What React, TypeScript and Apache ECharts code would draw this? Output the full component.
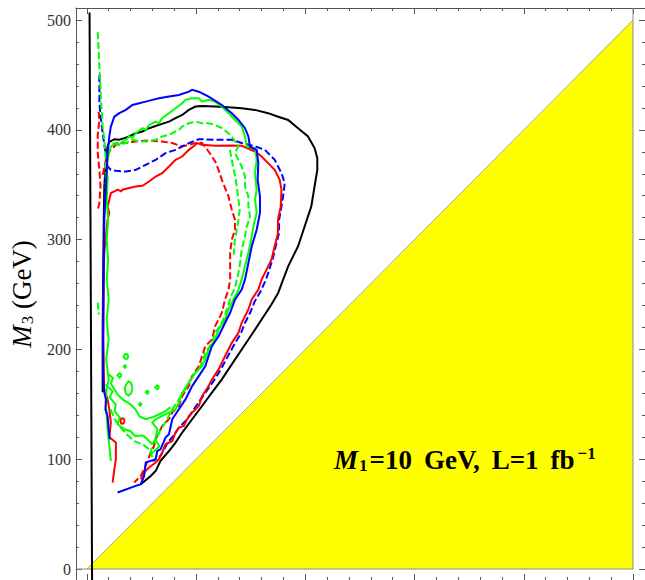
import React, { useEffect, useRef } from 'react';
import * as echarts from 'echarts';

// ---------- axes ----------
const AXIS_MIN = -10;
const AXIS_MAX = 511;
const MAJOR_TICKS = [0, 100, 200, 300, 400, 500];
const MINOR_TICKS = [0, 20, 40, 60, 80, 100, 120, 140, 160, 180, 200, 220, 240, 260, 280, 300, 320, 340, 360, 380, 400, 420, 440, 460, 480, 500];

// ---------- excluded region (M3 < M2) and boundaries ----------
const diagonal = [[0, 0], [500, 500]];
const boxEdge = [[-10, 0], [500, 0], [500, 511]];

// ---------- black ----------
const blackWall = [[2.5, 507], [4.8, -10]];
const blackSolid = [
  [14.5, 161], [14.5, 218], [15, 273], [15.5, 318], [16, 348.5], [17.5, 373], [19, 385], [20.6, 389],
  [25.2, 391.5], [29.7, 391], [34.3, 392.5], [38.8, 394], [44.8, 397], [50.9, 398.5], [57, 401.5],
  [66, 404.5], [75.2, 407.5], [81.2, 410.6], [87.3, 413.6], [93.4, 418.2], [99.4, 421.2], [105.5, 421.8],
  [117.5, 421.2], [129.7, 420.6], [141.8, 419.7], [154, 418.2], [166, 415.2], [175.2, 412], [184.3, 409],
  [193.4, 401.5], [202.5, 394], [208.5, 383.4], [211, 374.3], [211, 363.6], [208.5, 348.5], [205.5, 330.3],
  [199.4, 312], [193.4, 294], [184.3, 275.7], [179.7, 263.6], [175.2, 251.5], [169, 241], [160, 227.3],
  [151, 213.6], [141.8, 200], [132.7, 186.4], [123.6, 172.7], [114.5, 160.6], [105.5, 148.5], [96.4, 136.4],
  [87.3, 124.3], [81.2, 115.2], [75.2, 107.5], [67.5, 98.5], [63, 89.4], [58.5, 84.8], [49.4, 77.3]
];

// ---------- blue ----------
const blueSolid = [
  [20.9, 118.2], [20, 127.3], [19, 139.4], [17, 145.5], [17.5, 154.5], [16, 160.6], [15, 172.7], [15, 218],
  [15.5, 272.7], [16, 318], [17.5, 348.5], [19, 378.8], [20.6, 394], [22, 403], [25.2, 412], [29.7, 415.2],
  [35.7, 418.2], [41.8, 422.7], [47.9, 424.3], [53.9, 425.7], [60, 427.3], [66, 428.8], [75.2, 430.3],
  [84.3, 431.8], [93.4, 434.8], [96.4, 436.4], [102.5, 434.8], [111.5, 430.3], [123.6, 422.7], [132.7, 415.2],
  [138.8, 409], [144.8, 401.5], [147.9, 394], [149.4, 384.8], [155.5, 381.8], [157, 369.7], [156.4, 354.5],
  [158.5, 339.4], [158.5, 324.3], [155.5, 309], [151, 294], [147.9, 278.8], [144.8, 263.6], [141.8, 254.5],
  [135.7, 245.5], [131.2, 233.4], [126.6, 224.3], [120.6, 212], [114.5, 203], [111.5, 194], [108.5, 184.8],
  [102.5, 175.7], [96.4, 166.6], [90.3, 154.5], [84.3, 145.5], [78.2, 136.4], [75.2, 122.7], [72, 119.7],
  [67.5, 109], [64.5, 107.5], [63, 100], [58.5, 98.5], [53.9, 97], [52.5, 84.8], [49.4, 77.3], [44.8, 75.7],
  [28.2, 69.7]
];
const blueDashed = [
  [11.5, 450], [11.5, 424.3], [13, 409], [14.5, 397.3], [16, 386.4], [17.5, 377.3], [19, 366.6], [22, 363.6],
  [26.6, 362.7], [35.7, 362], [44.8, 363.6], [53.9, 368.2], [63, 372.7], [72, 378.8], [81.2, 381.8],
  [93.4, 388], [102.5, 391.5], [117.5, 391], [132.7, 391], [141.8, 388], [154, 385], [163, 381.8],
  [172, 372.7], [178.2, 360.6], [181.2, 351.5], [179.7, 339.4], [178.2, 330.3], [176, 318], [176, 306],
  [172.9, 294], [170, 281.8], [167, 272.7], [164, 263.6], [159, 252.7], [153.6, 243.6], [150, 234.5],
  [144.5, 223.6], [141, 214.5], [135.5, 205.5], [129, 193.6], [122.7, 181.8], [116.4, 171.8], [110, 162.7],
  [103.6, 153.6], [97.3, 144.5], [91, 135.5], [84.5, 129], [79, 121], [73.6, 114.5], [70, 107.3],
  [66.4, 101.8], [60, 98.2]
];

// ---------- red ----------
const redSolid = [
  [23.6, 78.8], [25.2, 91], [26.6, 100], [26.6, 115.2], [20.6, 120], [22, 133.4], [20.6, 145.5], [19, 154.5],
  [15.9, 163.6], [15, 209], [15.5, 272.7], [16, 288], [17.5, 303], [19, 318], [20.6, 324.3], [19, 330.3],
  [20.6, 336.4], [22, 342.5], [25.2, 344], [28.2, 345.5], [31.2, 344], [32.7, 345.5], [38.8, 347],
  [44.8, 348.5], [50.9, 349], [57, 353], [63, 357.5], [69, 360.6], [75.2, 366.6], [81.2, 372.7],
  [87.3, 375.7], [93.4, 381.8], [99.4, 386.4], [101, 388], [105.5, 386.4], [117.5, 385.5], [132.7, 385.7],
  [141.8, 385.5], [154, 380.3], [160, 375.7], [166, 369.7], [172, 363.6], [176.6, 354.5], [178.2, 345.5],
  [177.5, 330.3], [175, 318], [175, 306], [172, 294], [169, 281.8], [164.5, 272.7], [160, 263.6],
  [157, 254.5], [151, 245.5], [147.9, 236.4], [141.8, 224.3], [138.8, 215.2], [132.7, 206], [126.6, 194],
  [120.6, 181.8], [114.5, 172.7], [111.5, 166.6], [105.5, 157.5], [102.5, 148.5], [96.4, 142.5],
  [91.8, 136.4], [88.8, 130.3], [84.3, 128.8], [81.2, 124.3], [78.2, 116.6], [72, 113.6], [69, 106],
  [66, 100], [63, 97], [57, 92.5], [52.5, 88], [49.4, 81.8]
];
const redLoop = [[34.7, 134.8], [33.5, 137], [31.5, 137], [30.7, 134.8], [31.5, 132.6], [33.5, 132.6], [34.7, 134.8]];
const redDashedLeft = [[10.9, 416.4], [11.5, 409], [10, 395.5], [10, 378.8], [11.5, 363.6], [12.5, 348.5], [11.5, 333.4], [10, 327.3]];
const redDashed = [
  [14.5, 359], [19, 378.8], [25.2, 384.8], [28.2, 388], [35.7, 388], [44.8, 389.4], [57, 390.3], [69, 389.4],
  [78.2, 388], [87.3, 384.8], [93.4, 386.4], [101, 388.5], [105.5, 388], [111.5, 380.3], [117.5, 371.2],
  [120.6, 363.6], [123.6, 354.5], [129.7, 339.4], [132.7, 327.3], [135.7, 318], [135.7, 309], [132.7, 300],
  [131.2, 288], [131.2, 275.7], [131.2, 263.6], [129.7, 254.5], [126.6, 245.5], [123.6, 233.4], [120.6, 227.3],
  [117.5, 221.2], [114.5, 209], [108.5, 203], [105.5, 194], [102.5, 184.8], [96.4, 175.7], [93.4, 166.6],
  [87.3, 157.5], [84.3, 148.5], [78.2, 142.5], [75.2, 136.4], [69, 130.3], [63, 118.2], [61.5, 112],
  [58.5, 106], [53.9, 94], [49.4, 84.8], [43.4, 78.8]
];

// ---------- green ----------
const greenSolid = [
  [22, 98.5], [20.6, 112], [19, 127.3], [17.5, 148.5], [18, 163.6], [20, 172.7], [17.7, 191], [20, 209],
  [18.2, 227.3], [20, 245.5], [18.2, 263.6], [19.5, 281.8], [18.2, 300], [19.5, 318], [18.2, 336.4],
  [19, 354.5], [18.2, 368.2], [20, 377.3], [22, 384.8], [26.6, 388], [29, 386], [32.7, 389.4], [36, 391],
  [38.8, 394], [42, 393], [44.8, 397], [50.9, 401.5], [54, 400], [57, 404.5], [63, 407.5], [66, 406],
  [69, 410.6], [75.2, 415.2], [81.2, 419.7], [87.3, 424.3], [90.3, 427.3], [96.4, 428.8], [102.5, 428.8],
  [105.5, 425.7], [111.5, 427.3], [117.5, 425.7], [123.6, 421.2], [129.7, 415.2], [135.7, 409], [141.8, 403],
  [144.8, 394], [146.4, 384.8], [154, 383.4], [155.5, 372.7], [154, 360.6], [155.5, 345.5], [154, 336.4],
  [155.5, 324.3], [152.5, 312], [151, 303], [147.9, 288], [144.8, 275.7], [141.8, 263.6], [138.8, 254.5],
  [134.3, 245.5], [129.7, 236.4], [126.6, 227.3], [120.6, 218.2], [117.5, 209], [111.5, 200], [108.5, 191],
  [105.5, 184.8], [99.4, 178.8], [93.4, 169.7], [87.3, 160.6], [84.3, 151.5], [81.2, 145.5], [75.2, 142.5],
  [69, 139.4], [63, 136.4], [60, 133.4], [64.5, 127.3], [62.7, 118.2], [66.4, 111.8], [61.8, 107.3],
  [58.2, 104.5]
];
const greenSolidInnerA = [
  [17.3, 168.2], [23.6, 161.8], [20.9, 156.4], [26.4, 150], [25.5, 143.6], [30, 138.2], [28.2, 131.8],
  [34.5, 127.3], [40, 125.5], [44.5, 121], [50.9, 121.8], [55.5, 118.2], [60, 113.6]
];
const greenSolidInnerB = [
  [19, 178], [24, 174], [22, 169], [28.2, 159], [32.7, 154.5], [40, 150], [44.5, 145.5], [48.2, 139],
  [53.6, 136.4], [60, 138.2], [66.4, 141], [71.8, 143.6], [76.4, 147.3]
];
const greenLoop1 = [[38.2, 193.6], [37, 195.6], [34.8, 195.6], [33.6, 193.6], [34.8, 191.6], [37, 191.6], [38.2, 193.6]];
const greenLoop2 = [[36.2, 184.5], [35, 185.7], [33.8, 184.5], [35, 183.3], [36.2, 184.5]];
const greenLoop3 = [[32, 176.4], [30, 178.4], [28, 176.4], [30, 174.4], [32, 176.4]];
const greenLoop4 = [[41.7, 164.5], [40.5, 169.5], [38.2, 171], [35.9, 168], [34.7, 164.5], [35.9, 159.5], [38.2, 158], [40.5, 160], [41.7, 164.5]];
const greenLoop5 = [[66.3, 165.5], [64.5, 167.3], [62.7, 165.5], [64.5, 163.7], [66.3, 165.5]];
const greenLoop6 = [[57, 161], [55.5, 162.5], [54, 161], [55.5, 159.5], [57, 161]];
const greenLoop7 = [[50.3, 150], [49, 151.3], [47.7, 150], [49, 148.7], [50.3, 150]];

const greenDashedLeft = [[10, 489], [11.5, 457.6], [13, 427.3], [14.5, 403], [16, 391], [17.3, 372.7], [17.3, 336.4]];
const greenDashedBit = [[10, 242.7], [11, 231.8]];
const greenDashed = [
  [23.6, 388], [29.7, 386.4], [35.7, 388], [41.8, 391], [47.9, 389.4], [57, 389.4], [63, 391], [69, 394],
  [75.2, 395.5], [81.2, 398.5], [84.3, 400], [87.3, 403], [93.4, 406], [99.4, 407.5], [105.5, 406],
  [111.5, 406], [117.5, 404.5], [123.6, 401.5], [129.7, 397], [132.7, 394], [135.7, 389.4], [138.8, 385],
  [135.7, 378.8], [138.8, 372.7], [141.8, 366.6], [144.8, 357.5], [144.8, 348.5], [147.9, 339.4],
  [147.9, 330.3], [149.4, 321.2], [146.4, 312], [144.8, 303], [141.8, 291], [140.3, 278.8], [138.8, 269.7],
  [137.3, 263.6], [135.7, 256.4], [132.7, 250], [129.7, 241], [126.6, 231.8], [123.6, 224.3], [117.5, 215.2],
  [114.5, 206], [108.5, 197], [105.5, 188], [102.5, 181.8], [96.4, 175.7], [90.3, 163.6], [84.3, 154.5],
  [78.2, 145.5], [73.6, 136.4], [69, 129], [64.5, 121], [60, 113.6], [58.2, 104.5]
];
const greenDashedInner = [[131, 381.8], [133.6, 368.2], [136.4, 354.5], [138.2, 341], [140, 327.3], [138.2, 313.6], [135.5, 300], [134.5, 286.4]];
const greenDashedLow = [[21.8, 145.5], [25.5, 136.4], [30.9, 129], [37.3, 121.8], [43.6, 116.4], [50.9, 113.6], [57.3, 109], [60, 101.8]];

// ---------- styles ----------
const FRAME = '#555';
const SERIF = '"Liberation Serif", "Times New Roman", serif';
const BLACK = '#000000';
const BLUE = '#0000ff';
const RED = '#ff0000';
const GREEN = '#00ff00';
const DASH = [7, 3];

function curve(name: string, data: number[][], color: string, dashed: boolean, z: number, width = 2) {
  return {
    type: 'line',
    name,
    data,
    showSymbol: false,
    symbol: 'none',
    silent: true,
    z,
    lineStyle: { color, width, type: dashed ? DASH : 'solid', cap: 'butt', join: 'miter' },
  };
}

function makeAxis(position: string, ticks: number[], length: number, showLine: boolean, labels: boolean) {
  return {
    type: 'value',
    min: AXIS_MIN,
    max: AXIS_MAX,
    position,
    splitLine: { show: false },
    axisLine: { show: showLine, onZero: false, lineStyle: { color: FRAME, width: 1 } },
    axisTick: { show: true, inside: true, length, customValues: ticks, lineStyle: { color: FRAME, width: 1 } },
    axisLabel: labels
      ? { show: true, customValues: MAJOR_TICKS, color: '#333', fontFamily: SERIF, fontSize: 16, margin: 5 }
      : { show: false },
  };
}

export default function App() {
  const ref = useRef<HTMLDivElement>(null);
  useEffect(() => {
    if (!ref.current) return;
    const chart = echarts.init(ref.current, null, { renderer: 'svg' });
    const yLeftMajor: any = makeAxis('left', MAJOR_TICKS, 6, true, true);
    yLeftMajor.name = '{m|M}{s|3}{n| (GeV)}';
    yLeftMajor.nameLocation = 'middle';
    yLeftMajor.nameRotate = 90;
    yLeftMajor.nameGap = 38;
    yLeftMajor.nameTextStyle = {
      color: '#000',
      fontFamily: SERIF,
      fontSize: 27,
      rich: {
        m: { fontFamily: SERIF, fontSize: 27, fontStyle: 'italic', color: '#000' },
        s: { fontFamily: SERIF, fontSize: 17, color: '#000', verticalAlign: 'top', padding: [12, 0, 0, 1] },
        n: { fontFamily: SERIF, fontSize: 27, color: '#000' },
      },
    };
    const bold = { fontFamily: SERIF, fontSize: 27, fontWeight: 'bold', color: '#000' };
    const option: any = {
      animation: false,
      backgroundColor: '#ffffff',
      grid: { left: 73, top: 8, width: 573, height: 573, containLabel: false },
      title: {
        text: '{m|M}{s|1}{n|=10}{g|GeV,}{l|L=1}{f|fb}{p|\u22121}',
        left: 334,
        top: 445,
        padding: 0,
        textStyle: {
          rich: {
            m: { ...bold, fontStyle: 'italic' },
            s: { fontFamily: SERIF, fontSize: 17, fontWeight: 'bold', color: '#000', verticalAlign: 'top', padding: [12, 0, 0, 1] },
            n: { ...bold, padding: [0, 0, 0, 2] },
            g: { ...bold, padding: [0, 0, 0, 12] },
            l: { ...bold, padding: [0, 0, 0, 12] },
            f: { ...bold, padding: [0, 0, 0, 12] },
            p: { fontFamily: SERIF, fontSize: 17, fontWeight: 'bold', color: '#000', verticalAlign: 'top', padding: [0, 0, 0, 3] },
          },
        },
      },
      xAxis: [
        makeAxis('bottom', MINOR_TICKS, 3, true, false),
        makeAxis('bottom', MAJOR_TICKS, 6, false, false),
        makeAxis('top', MINOR_TICKS, 3, true, false),
        makeAxis('top', MAJOR_TICKS, 6, false, false),
      ],
      yAxis: [
        yLeftMajor,
        makeAxis('left', MINOR_TICKS, 3, false, false),
        makeAxis('right', MINOR_TICKS, 3, true, false),
        makeAxis('right', MAJOR_TICKS, 6, false, false),
      ],
      series: [
        {
          type: 'line',
          data: diagonal,
          showSymbol: false,
          symbol: 'none',
          silent: true,
          z: 1,
          lineStyle: { color: '#a8a8a8', width: 1 },
          areaStyle: { color: '#ffff00', opacity: 1 },
        },
        curve('edge', boxEdge, '#8a8a8a', false, 2, 1),
        curve('blackWall', blackWall, BLACK, false, 3, 2),
        curve('blackSolid', blackSolid, BLACK, false, 3, 2),
        curve('redDashedLeft', redDashedLeft, RED, true, 4),
        curve('redDashed', redDashed, RED, true, 4),
        curve('blueDashed', blueDashed, BLUE, true, 5),
        curve('redSolid', redSolid, RED, false, 6),
        curve('redLoop', redLoop, RED, false, 6),
        curve('greenDashedLeft', greenDashedLeft, GREEN, true, 7),
        curve('greenDashedBit', greenDashedBit, GREEN, true, 7),
        curve('greenDashed', greenDashed, GREEN, true, 7),
        curve('greenDashedInner', greenDashedInner, GREEN, true, 7),
        curve('greenDashedLow', greenDashedLow, GREEN, true, 7),
        curve('greenSolid', greenSolid, GREEN, false, 8),
        curve('greenSolidInnerA', greenSolidInnerA, GREEN, false, 8),
        curve('greenSolidInnerB', greenSolidInnerB, GREEN, false, 8),
        curve('greenLoop1', greenLoop1, GREEN, false, 8),
        curve('greenLoop2', greenLoop2, GREEN, false, 8),
        curve('greenLoop3', greenLoop3, GREEN, false, 8),
        curve('greenLoop4', greenLoop4, GREEN, false, 8),
        curve('greenLoop5', greenLoop5, GREEN, false, 8),
        curve('greenLoop6', greenLoop6, GREEN, false, 8),
        curve('greenLoop7', greenLoop7, GREEN, false, 8),
        curve('blueSolid', blueSolid, BLUE, false, 9),
      ],
    };
    chart.setOption(option);
    return () => chart.dispose();
  }, []);
  return <div ref={ref} style={{ position: 'absolute', left: 0, top: 0, width: 645, height: 580 }} />;
}
